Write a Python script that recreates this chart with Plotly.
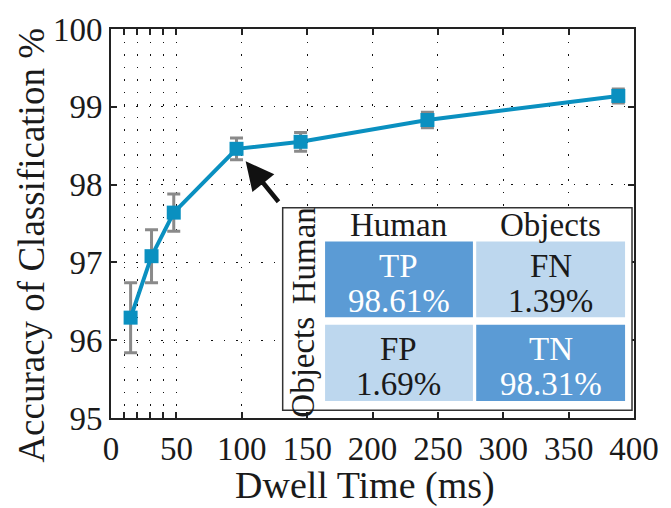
import plotly.graph_objects as go

# Dwell time (ms) vs. classification accuracy (%) with std error bars
dwell_ms = [15, 31, 48, 96, 145, 242, 388]
accuracy = [96.29, 97.08, 97.64, 98.46, 98.55, 98.83, 99.14]
acc_err = [0.45, 0.34, 0.24, 0.14, 0.12, 0.10, 0.09]

x_tickvals = [0, 10, 20, 30, 40, 50, 100, 150, 200, 250, 300, 350, 400]
x_ticktext = ["0", "", "", "", "", "50", "100", "150", "200", "250", "300", "350", "400"]
y_tickvals = [95, 96, 97, 98, 99, 100]

x_title = "Dwell Time (ms)"
y_title = "Accuracy of Classification %"

# Confusion matrix shown in the inset
cm_cols = ["Human", "Objects"]
cm_rows = ["Human", "Objects"]
cm_tags = [["TP", "FN"], ["FP", "TN"]]
cm_vals = [[98.61, 1.39], [1.69, 98.31]]

FONT = "Liberation Serif"
LINE = "#0a90c0"
DARK = "#5b9bd5"
LIGHT = "#bdd7ee"
INK = "#1a1a1a"

W, H = 671, 508
L, R, T, B = 111, 638, 20, 418


def px(x):
    return (x - L) / (R - L)


def py(y):
    return (B - y) / (B - T)


def label(x, y, text, size=33, color=INK, angle=0):
    return dict(xref="paper", yref="paper", x=px(x), y=py(y), text=text,
                showarrow=False, xanchor="center", yanchor="middle", textangle=angle,
                font=dict(family=FONT, size=size, color=color))


fig = go.Figure()
fig.add_trace(go.Scatter(
    x=dwell_ms, y=accuracy, mode="lines+markers",
    line=dict(color=LINE, width=4),
    marker=dict(symbol="square", size=14, color=LINE),
    error_y=dict(type="data", array=acc_err, color="#8a8a8a", thickness=3, width=6.5),
    showlegend=False,
))

grid = dict(showgrid=True, gridcolor="#111111", gridwidth=1.3, griddash="1.5px,11px")
axis_common = dict(
    ticks="inside", ticklen=6, tickwidth=1.5, tickcolor="#222",
    showline=True, linecolor="#222", linewidth=2, mirror="ticks",
    zeroline=False,
    tickfont=dict(family=FONT, size=33, color=INK),
    **grid,
)
fig.update_xaxes(range=[0, 400], tickvals=x_tickvals, ticktext=x_ticktext, **axis_common)
fig.update_yaxes(range=[95, 100], tickvals=y_tickvals, **axis_common)

shapes = []
annotations = [
    label(367, 487, x_title, size=38),
    label(30, 241, y_title, size=37, angle=-90),
]

# Inset frame
shapes.append(dict(type="rect", xref="paper", yref="paper",
                   x0=px(284), x1=px(636), y0=py(410), y1=py(203),
                   fillcolor="white", line=dict(color="#333", width=1.5), layer="above"))

col_x = [(326.7, 475.7), (479, 629)]
row_y = [(237.3, 315), (322.7, 400.7)]
for i in range(2):
    for j in range(2):
        diag = i == j
        x0, x1 = col_x[j]
        y0, y1 = row_y[i]
        shapes.append(dict(type="rect", xref="paper", yref="paper",
                           x0=px(x0), x1=px(x1), y0=py(y1), y1=py(y0),
                           fillcolor=DARK if diag else LIGHT, line=dict(width=0), layer="above"))
        cx = (x0 + x1) / 2
        tc = "white" if diag else INK
        annotations.append(label(cx, y0 + 25, cm_tags[i][j], color=tc))
        annotations.append(label(cx, y0 + 61, f"{cm_vals[i][j]:.2f}%", color=tc))

for j, name in enumerate(cm_cols):
    annotations.append(label(sum(col_x[j]) / 2, 221, name))
for i, (name, cy) in enumerate(zip(cm_rows, [252, 366])):
    annotations.append(label(305, cy, name, angle=-90))

# Arrow pointing at the 100 ms operating point
annotations.append(dict(x=dwell_ms[3] + 7, y=accuracy[3] - 0.16, xref="x", yref="y",
                        ax=34, ay=42, text="", showarrow=True,
                        arrowhead=2, arrowsize=1.25, arrowwidth=4.5, arrowcolor="#111"))

fig.update_layout(
    width=W, height=H,
    margin=dict(l=L, r=W - R, t=T, b=H - B),
    paper_bgcolor="white", plot_bgcolor="white",
    font=dict(family=FONT),
    shapes=shapes, annotations=annotations,
)

fig.write_html("out.html")
